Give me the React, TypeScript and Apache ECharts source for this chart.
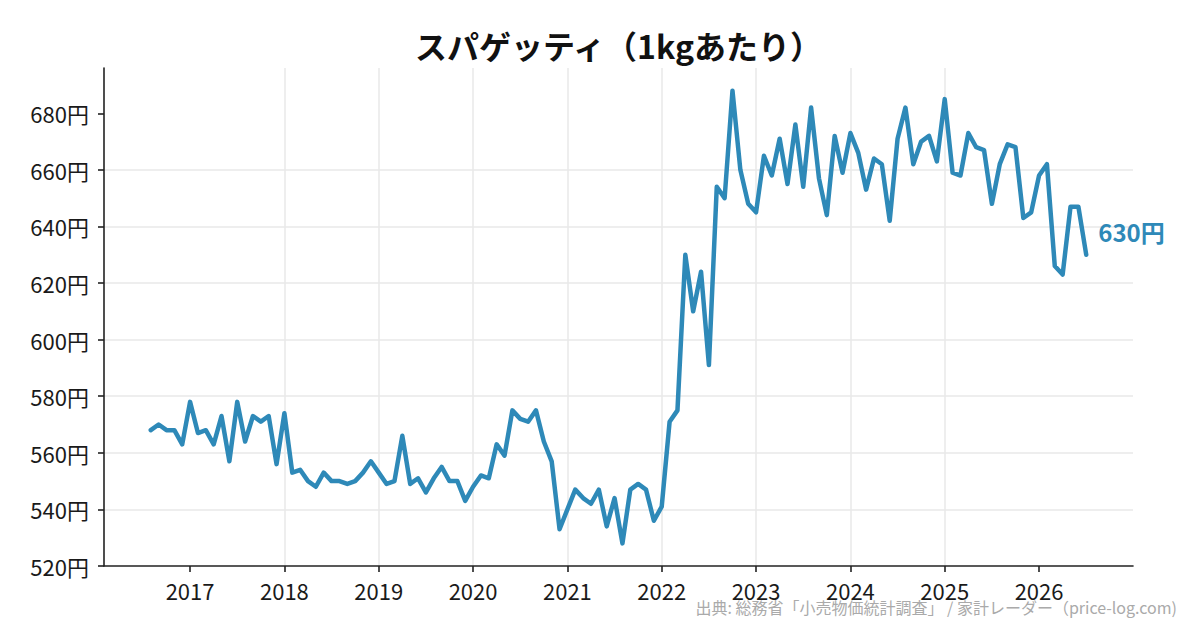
import React, { useEffect, useRef } from "react";
import * as echarts from "echarts";

// ---- data (monthly retail price, yen per 1kg) ----
const startYear = 2016;
const startMonth = 8; // August 2016
const prices2016 = [568, 570, 568, 568, 563];
const prices2017 = [578, 567, 568, 563, 573, 557, 578, 564, 573, 571, 573, 556];
const prices2018 = [574, 553, 554, 550, 548, 553, 550, 550, 549, 550, 553, 557];
const prices2019 = [553, 549, 550, 566, 549, 551, 546, 551, 555, 550, 550, 543];
const prices2020 = [548, 552, 551, 563, 559, 575, 572, 571, 575, 564, 557, 533];
const prices2021 = [540, 547, 544, 542, 547, 534, 544, 528, 547, 549, 547, 536];
const prices2022 = [541, 571, 575, 630, 610, 624, 591, 654, 650, 688, 660, 648];
const prices2023 = [645, 665, 658, 671, 655, 676, 654, 682, 657, 644, 672, 659];
const prices2024 = [673, 666, 653, 664, 662, 642, 671, 682, 662, 670, 672, 663];
const prices2025 = [685, 659, 658, 673, 668, 667, 648, 662, 669, 668, 643, 645];
const prices2026 = [658, 662, 626, 623, 647, 647, 630];

const yearTicks = [2017, 2018, 2019, 2020, 2021, 2022, 2023, 2024, 2025, 2026];
const yTicks = [520, 540, 560, 580, 600, 620, 640, 660, 680];

const titleText = "スパゲッティ（1kgあたり）";
const sourceText = "出典: 総務省「小売物価統計調査」 / 家計レーダー（price-log.com)";

const allPrices = [
  ...prices2016, ...prices2017, ...prices2018, ...prices2019, ...prices2020, ...prices2021,
  ...prices2022, ...prices2023, ...prices2024, ...prices2025, ...prices2026,
];

const seriesData = allPrices.map((v, i) => {
  const m = startMonth - 1 + i;
  return [startYear + m / 12, v];
});

const xFirst = seriesData[0][0];
const xLast = seriesData[seriesData.length - 1][0];
const xPad = (xLast - xFirst) * 0.05;
const yMinV = Math.min(...allPrices);
const yMaxV = Math.max(...allPrices);
const yPad = (yMaxV - yMinV) * 0.05;

const LINE = "#2e89b8";
const FONT = "'Noto Sans CJK JP', 'Noto Sans', sans-serif";

export default function App() {
  const ref = useRef<HTMLDivElement>(null);
  useEffect(() => {
    if (!ref.current) return;
    const chart = echarts.init(ref.current, null, { renderer: "svg" });
    const last = allPrices[allPrices.length - 1];
    chart.setOption({
      animation: false,
      backgroundColor: "#ffffff",
      textStyle: { fontFamily: FONT },
      grid: { left: 104, right: 67, top: 68, bottom: 64, outerBoundsMode: "none" },
      xAxis: {
        type: "value",
        min: xFirst - xPad,
        max: xLast + xPad,
        minInterval: 1,
        maxInterval: 1,
        axisLine: { show: true, lineStyle: { color: "#222", width: 1.6 } },
        axisTick: { show: true, length: 6, lineStyle: { color: "#222", width: 1.6 }, customValues: yearTicks },
        axisLabel: {
          customValues: yearTicks,
          formatter: (v: number) => String(Math.round(v)),
          color: "#1a1a1a",
          fontSize: 22,
          fontFamily: FONT,
          margin: 13,
        },
        splitLine: { show: true, showMinLine: false, showMaxLine: false, lineStyle: { color: "#e8e8e8", width: 1.5 } },
      },
      yAxis: {
        type: "value",
        min: Math.floor(yMinV - yPad),
        max: Math.ceil(yMaxV + yPad),
        interval: 20,
        axisLine: { show: true, lineStyle: { color: "#222", width: 1.6 } },
        axisTick: { show: true, length: 6, lineStyle: { color: "#222", width: 1.6 }, customValues: yTicks },
        axisLabel: {
          customValues: yTicks,
          formatter: (v: number) => `${v}円`,
          color: "#1a1a1a",
          fontSize: 22,
          fontFamily: FONT,
          margin: 15,
        },
        splitLine: { show: true, showMinLine: false, showMaxLine: false, lineStyle: { color: "#e8e8e8", width: 1.5 } },
      },
      series: [
        {
          type: "line",
          data: seriesData,
          showSymbol: false,
          symbol: "none",
          lineStyle: { color: LINE, width: 4.5, join: "round", cap: "round" },
          endLabel: {
            show: true,
            formatter: () => `${last}円`,
            color: LINE,
            fontSize: 24,
            fontWeight: "bold",
            fontFamily: FONT,
            distance: 12,
            offset: [0, -23],
          },
        },
      ],
      graphic: [
        {
          type: "text",
          x: 618.5,
          y: 45,
          style: {
            text: titleText,
            fill: "#111",
            font: `bold 32px ${FONT}`,
            align: "center",
            verticalAlign: "middle",
          },
        },
        {
          type: "text",
          x: 1177,
          y: 607,
          style: {
            text: sourceText,
            fill: "#aaaaaa",
            font: `16px ${FONT}`,
            align: "right",
            verticalAlign: "middle",
          },
        },
      ],
    });
    return () => chart.dispose();
  }, []);
  return (
    <div
      ref={ref}
      style={{ position: "fixed", left: 0, top: 0, width: 1200, height: 630, background: "#fff" }}
    />
  );
}
